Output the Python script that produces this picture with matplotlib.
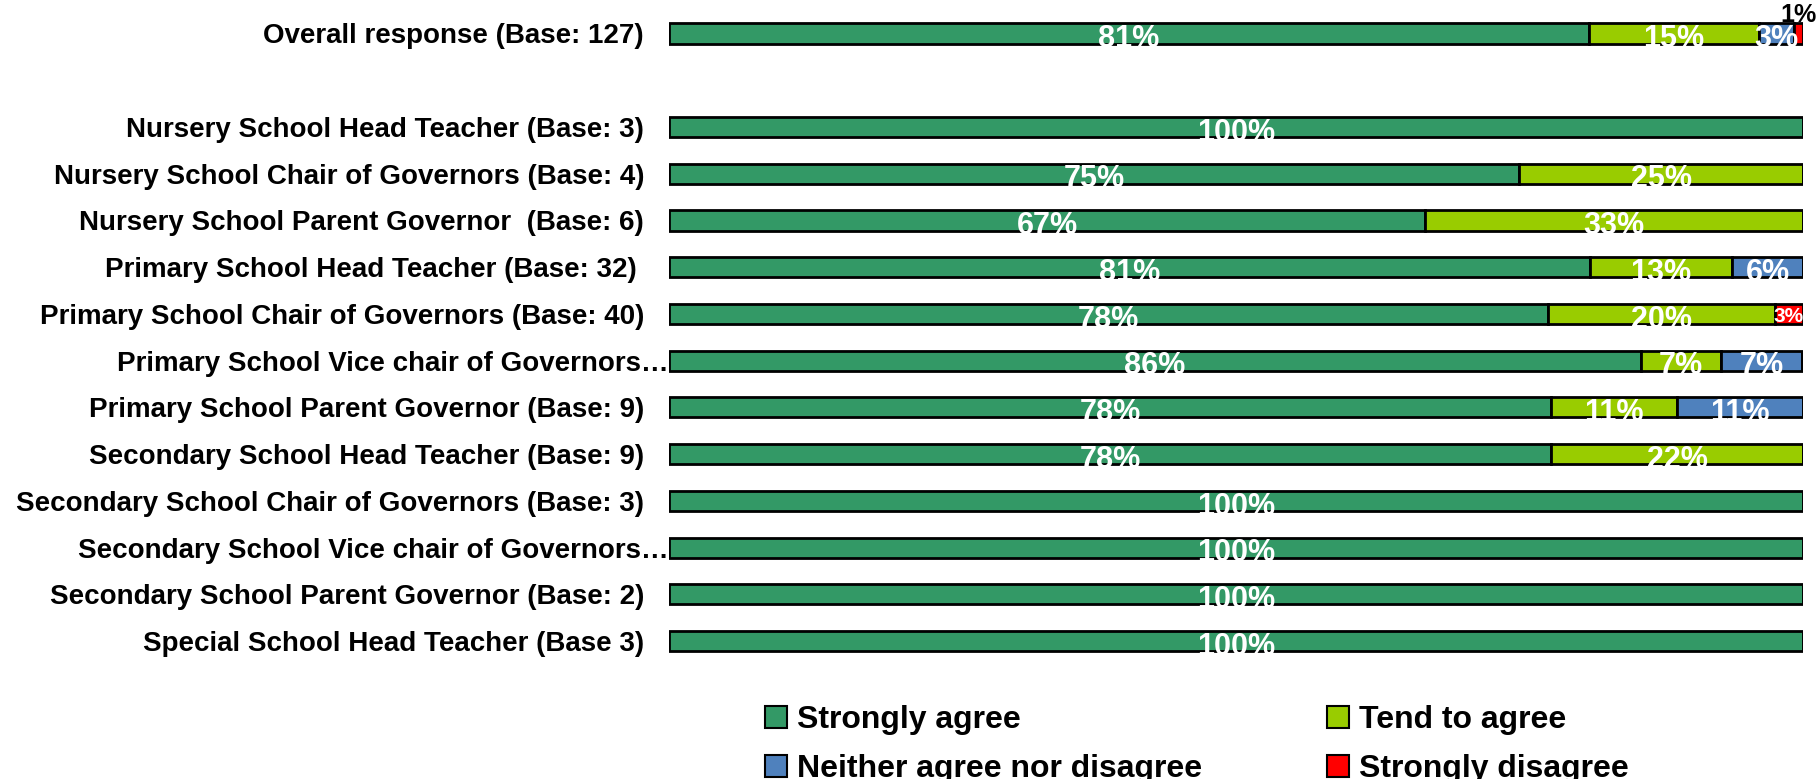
import matplotlib
matplotlib.use("Agg")
import matplotlib.pyplot as plt
import matplotlib.transforms as mtransforms
from matplotlib.patches import Patch
import numpy as np

plt.rcParams['font.family'] = ['Liberation Sans', 'DejaVu Sans']
plt.rcParams['font.weight'] = 'bold'

groups = ["Overall response (Base: 127)",
          "Nursery School Head Teacher (Base: 3)",
          "Nursery School Chair of Governors (Base: 4)",
          "Nursery School Parent Governor  (Base: 6)",
          "Primary School Head Teacher (Base: 32) ",
          "Primary School Chair of Governors (Base: 40)",
          "Primary School Vice chair of Governors…",
          "Primary School Parent Governor (Base: 9)",
          "Secondary School Head Teacher (Base: 9)",
          "Secondary School Chair of Governors (Base: 3)",
          "Secondary School Vice chair of Governors…",
          "Secondary School Parent Governor (Base: 2)",
          "Special School Head Teacher (Base 3)"]
rows = [0, 2, 3, 4, 5, 6, 7, 8, 9, 10, 11, 12, 13]

strongly_agree = [81.1, 100, 75, 66.7, 81.25, 77.5, 85.7, 77.8, 77.8, 100, 100, 100, 100]
tend_to_agree = [15.0, 0, 25, 33.3, 12.5, 20, 7.1, 11.1, 22.2, 0, 0, 0, 0]
neither = [3.1, 0, 0, 0, 6.25, 0, 7.1, 11.1, 0, 0, 0, 0, 0]
strongly_disagree = [0.8, 0, 0, 0, 0, 2.5, 0, 0, 0, 0, 0, 0, 0]

series = [("Strongly agree", strongly_agree, "#339966"),
          ("Tend to agree", tend_to_agree, "#99CC00"),
          ("Neither agree nor disagree", neither, "#4F81BD"),
          ("Strongly disagree", strongly_disagree, "#FF0000")]

fig = plt.figure(figsize=(18.18, 7.79), dpi=100)
ax = fig.add_axes([0.368, 0.147, 0.6237, 0.840])

bar_h = 0.43
left = np.zeros(len(rows))
for name, vals, color in series:
    vals = np.array(vals, dtype=float)
    ax.barh(rows, vals, left=left, height=bar_h, color=color,
            edgecolor="black", linewidth=2)
    for y, l, v in zip(rows, left, vals):
        if v <= 0:
            continue
        label = "{}%".format(int(v + 0.5))
        xc = l + v / 2
        if v < 1:
            ax.text(xc, y - bar_h / 2 + 0.08, label, ha="center", va="bottom",
                    color="black", fontsize=18, fontweight="bold")
        elif v < 3:
            ax.text(xc, y + 0.05, label, ha="center", va="center",
                    color="white", fontsize=15, fontweight="bold")
        else:
            ax.text(xc, y + 0.12, label, ha="center", va="center",
                    color="white", fontsize=22, fontweight="bold")
    left += vals

ax.set_xlim(0, 100)
ax.set_ylim(13.5, -0.5)
ax.set_yticks(rows)
ax.set_yticklabels(groups, fontsize=20, fontweight="bold")
ax.tick_params(axis="y", length=0, pad=18)
ax.set_xticks([])
for s in ax.spines.values():
    s.set_visible(False)

# truncated labels sit right against the bar
for lab in ax.get_yticklabels():
    if lab.get_text().endswith("…"):
        lab.set_transform(lab.get_transform() +
                          mtransforms.ScaledTranslation(0.25, 0, fig.dpi_scale_trans))

# legend fills row by row in the reference: order handles for column-major fill
order = [0, 2, 1, 3]
handles = [Patch(facecolor=series[i][2], edgecolor="black", linewidth=1.5,
                 label=series[i][0]) for i in order]
fig.legend(handles=handles, loc="upper left", bbox_to_anchor=(0.405, 0.132),
           ncol=2, frameon=False, handlelength=0.7, handleheight=0.7,
           handletextpad=0.3, columnspacing=3.9, labelspacing=0.6,
           prop={"weight": "bold", "size": 23})

fig.savefig("out.png", dpi=100)
